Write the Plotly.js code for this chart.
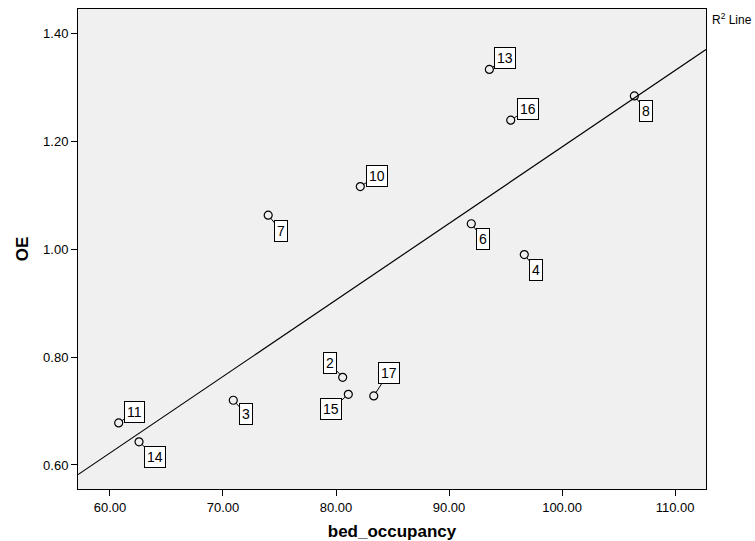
<!DOCTYPE html>
<html>
<head>
<meta charset="utf-8">
<script src="https://cdn.plot.ly/plotly-3.0.1.min.js"></script>
<style>html,body{margin:0;padding:0;background:#fff;} #chart{width:755px;height:541px;}</style>
</head>
<body>
<div id="chart"></div>
<script>
// Data
var caseIds = ["13", "16", "8", "10", "7", "6", "4", "2", "15", "17", "3", "11", "14"];
var bedOccupancy = [93.57, 95.46, 106.4, 82.15, 74.0, 91.97, 96.66, 80.59, 81.09, 83.34, 70.91, 60.77, 62.57];
var oeValues = [1.333, 1.239, 1.284, 1.116, 1.063, 1.047, 0.990, 0.7625, 0.731, 0.728, 0.720, 0.678, 0.643];
// label offsets (px) from each point to its label box
var labelDx = [16, 17, 12, 17, 13, 12, 12, -13, -17, 15, 13, 16, 16];
var labelDy = [-11, -11, 15, -11, 16, 15, 15, -14, 15, -23, 14, -11, 15];
var xTicks = [60, 70, 80, 90, 100, 110];
var yTicks = [0.6, 0.8, 1.0, 1.2, 1.4];
var xRange = [57.17, 112.74];
var yRange = [0.5555, 1.445];

// Least-squares fit line
var n = bedOccupancy.length, mx = 0, my = 0;
for (var i = 0; i < n; i++) { mx += bedOccupancy[i]; my += oeValues[i]; }
mx /= n; my /= n;
var sxy = 0, sxx = 0;
for (var i = 0; i < n; i++) { sxy += (bedOccupancy[i]-mx)*(oeValues[i]-my); sxx += (bedOccupancy[i]-mx)*(bedOccupancy[i]-mx); }
var slope = sxy/sxx, intercept = my - slope*mx;
var fitX = [xRange[0], xRange[1]];
var fitY = fitX.map(function(v){ return intercept + slope*v; });

var traces = [
  {x: fitX, y: fitY, type: 'scatter', mode: 'lines', line: {color: '#000', width: 1.2}, hoverinfo: 'skip', cliponaxis: true},
  {x: bedOccupancy, y: oeValues, type: 'scatter', mode: 'markers', marker: {symbol: 'circle-open', size: 8, color: '#000', line: {width: 1.2, color: '#000'}}}
];

var annotations = caseIds.map(function(id, i){
  return {x: bedOccupancy[i], y: oeValues[i], xref: 'x', yref: 'y', text: id,
    showarrow: true, arrowhead: 0, arrowwidth: 1, arrowcolor: '#000', standoff: 4,
    ax: labelDx[i], ay: labelDy[i],
    font: {family: 'Liberation Sans, Arial, sans-serif', size: 14, color: '#000'},
    bgcolor: '#fff', bordercolor: '#000', borderwidth: 1, borderpad: 2};
});
annotations.push({xref: 'paper', yref: 'paper', x: 1.006, y: 1.0, xanchor: 'left', yanchor: 'top',
  text: 'R<sup>2</sup> Line', showarrow: false, yshift: 0,
  font: {family: 'Liberation Sans, Arial, sans-serif', size: 12, color: '#000'}});

var layout = {
  width: 755, height: 541,
  margin: {l: 78, r: 49, t: 9, b: 52},
  paper_bgcolor: '#fff', plot_bgcolor: '#f0f0f0',
  showlegend: false,
  font: {family: 'Liberation Sans, Arial, sans-serif', size: 13, color: '#000'},
  xaxis: {range: xRange, tickvals: xTicks, tickformat: '.2f', ticks: 'outside', ticklen: 6, tickcolor: '#000',
    showgrid: false, zeroline: false, showline: true, linecolor: '#000', linewidth: 1, mirror: true,
    title: {text: 'bed_occupancy', font: {size: 17, color: '#000', family: 'Liberation Sans, Arial, sans-serif', weight: 'bold'}, standoff: 11}},
  yaxis: {range: yRange, tickvals: yTicks, tickformat: '.2f', ticks: 'outside', ticklen: 6, tickcolor: '#000',
    showgrid: false, zeroline: false, showline: true, linecolor: '#000', linewidth: 1, mirror: true,
    title: {text: 'OE', font: {size: 17, color: '#000', family: 'Liberation Sans, Arial, sans-serif', weight: 'bold'}, standoff: 10}},
  annotations: annotations
};

Plotly.newPlot('chart', traces, layout, {displayModeBar: false, staticPlot: true});
</script>
</body>
</html>
